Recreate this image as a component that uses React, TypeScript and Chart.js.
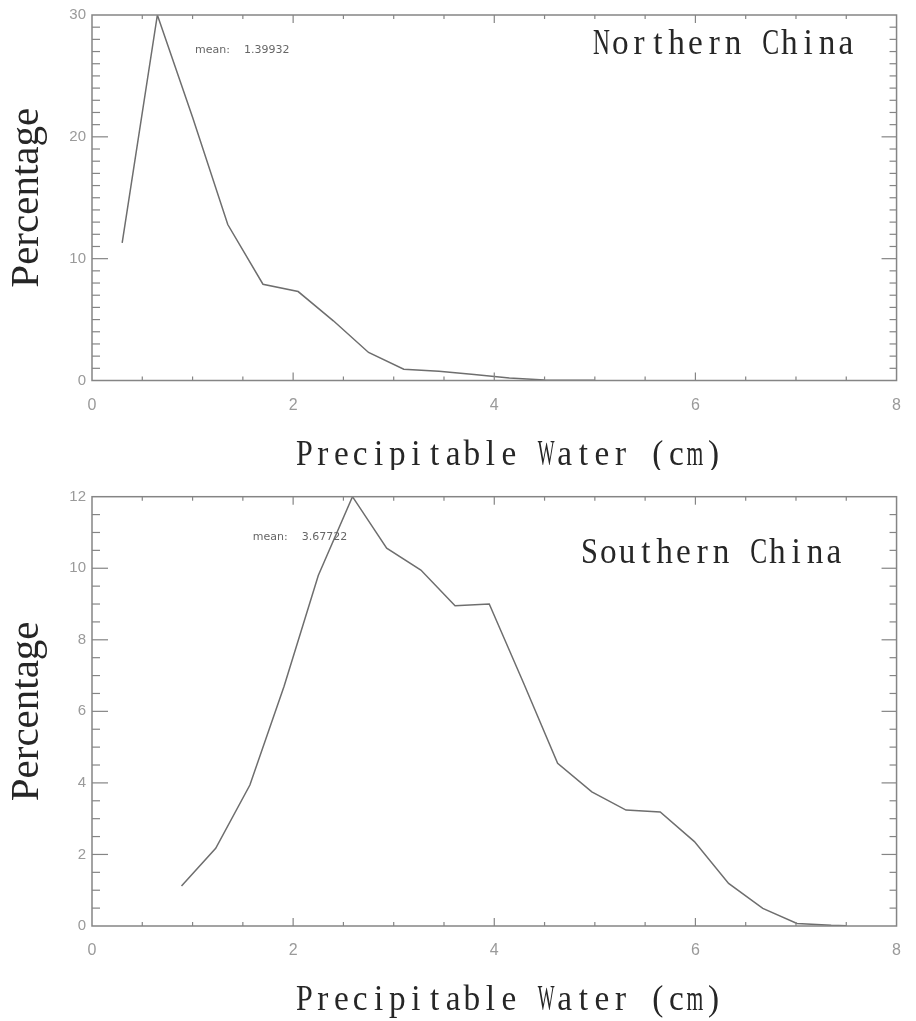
import React, { useEffect, useRef } from "react";
import { Chart, registerables } from "chart.js";

Chart.register(...registerables);

// Northern China: precipitable-water histogram (bin centre in cm, percentage of cases)
const northWater = [0.3, 0.65, 1.0, 1.35, 1.7, 2.05, 2.4, 2.75, 3.1, 3.45, 3.8, 4.15, 4.5, 4.85, 5.0];
const northPercent = [11.3, 30.0, 21.6, 12.8, 7.9, 7.3, 4.9, 2.3, 0.93, 0.75, 0.5, 0.2, 0.05, 0.03, 0.02];
const northMean = "1.39932";

// Southern China
const southWater = [0.89, 1.23, 1.57, 1.91, 2.25, 2.59, 2.93, 3.27, 3.61, 3.95, 4.29, 4.63, 4.97, 5.31, 5.65, 5.99, 6.33, 6.67, 7.01, 7.35, 7.5];
const southPercent = [1.12, 2.17, 3.94, 6.7, 9.8, 12.0, 10.56, 9.95, 8.95, 9.0, 6.8, 4.55, 3.75, 3.24, 3.19, 2.36, 1.19, 0.49, 0.07, 0.02, 0.01];
const southMean = "3.67722";

// Axis settings
const xRange = [0, 8];
const xLabelStep = 2;
const xMinorStep = 0.5;
const northYRange = [0, 30];
const northYLabelStep = 10;
const northYMinorStep = 1;
const southYRange = [0, 12];
const southYLabelStep = 2;
const southYMinorStep = 0.5;

const xTitle = "Precipitable Water (cm)";
const yTitle = "Percentage";

const LINE = "#6e6e6e";
const FRAME = "#858585";
const TICK_TEXT = "#9a9a9a";
const TITLE_TEXT = "#262626";

type PanelText = {
  region: string;
  mean: string;
  regionDx: number;
  regionDy: number;
  meanDx: number;
  meanDy: number;
  xMinor: number;
  xMajor: number;
  yMinor: number;
  yMajor: number;
};

// Serif text set in fixed-width cells (typewriter style); wide glyphs are narrowed to fit their cell
function drawFixedPitch(ctx: CanvasRenderingContext2D, text: string, left: number, baseline: number, cell: number) {
  ctx.save();
  ctx.font = "35px 'Liberation Serif'";
  ctx.textAlign = "center";
  ctx.textBaseline = "alphabetic";
  ctx.fillStyle = TITLE_TEXT;
  for (let i = 0; i < text.length; i++) {
    const ch = text[i];
    if (ch === " ") continue;
    const w = ctx.measureText(ch).width;
    const sx = Math.min(0.95, (cell * 0.9) / w);
    ctx.save();
    ctx.translate(left + cell * (i + 0.5), baseline);
    ctx.scale(sx, 1);
    ctx.fillText(ch, 0, 0);
    ctx.restore();
  }
  ctx.restore();
}

// Inward tick marks on all four sides, frame, and in-plot annotations
const framePlugin = {
  id: "idlFrame",
  afterDraw(chart: any, _args: any, opts: PanelText) {
    const { ctx, chartArea: a } = chart;
    const xs = chart.scales.x;
    const ys = chart.scales.y;
    ctx.save();
    ctx.strokeStyle = FRAME;
    ctx.lineWidth = 1.5;
    ctx.strokeRect(a.left, a.top, a.right - a.left, a.bottom - a.top);

    const seg = (x1: number, y1: number, x2: number, y2: number) => {
      ctx.beginPath();
      ctx.moveTo(x1, y1);
      ctx.lineTo(x2, y2);
      ctx.stroke();
    };
    ctx.lineWidth = 1.2;

    const nx = Math.round((xs.max - xs.min) / opts.xMinor);
    for (let i = 1; i < nx; i++) {
      const v = xs.min + i * opts.xMinor;
      const px = xs.getPixelForValue(v);
      const r = v / opts.xMajor;
      const major = Math.abs(r - Math.round(r)) < 1e-6;
      const len = major ? 8 : 4;
      seg(px, a.bottom, px, a.bottom - len);
      seg(px, a.top, px, a.top + len);
    }
    const ny = Math.round((ys.max - ys.min) / opts.yMinor);
    for (let i = 1; i < ny; i++) {
      const v = ys.min + i * opts.yMinor;
      const py = ys.getPixelForValue(v);
      const r = v / opts.yMajor;
      const major = Math.abs(r - Math.round(r)) < 1e-6;
      seg(a.left, py, a.left + (major ? 16 : 8), py);
      seg(a.right, py, a.right - (major ? 15 : 7), py);
    }

    // region name
    drawFixedPitch(ctx, opts.region, a.left + opts.regionDx, a.top + opts.regionDy, 18.8);

    // mean value
    ctx.fillStyle = "#666";
    ctx.font = "11px 'DejaVu Sans'";
    ctx.textAlign = "left";
    ctx.textBaseline = "middle";
    ctx.fillText("mean:", a.left + opts.meanDx, a.top + opts.meanDy);
    ctx.fillText(opts.mean, a.left + opts.meanDx + 49, a.top + opts.meanDy);

    // x-axis title
    drawFixedPitch(ctx, xTitle, a.left + 203, a.bottom + 84, 18.6);

    ctx.restore();
  },
};

type PanelProps = {
  water: number[];
  percent: number[];
  yRange: number[];
  yLabelStep: number;
  yMinorStep: number;
  region: string;
  mean: string;
  top: number;
  height: number;
  areaTop: number;
  areaBottom: number;
  regionDx: number;
  regionDy: number;
  meanDx: number;
  meanDy: number;
};

function Panel(p: PanelProps) {
  const ref = useRef<HTMLCanvasElement>(null);
  useEffect(() => {
    if (!ref.current) return;
    const points = p.water.map((w, i) => ({ x: w, y: p.percent[i] }));
    const chart = new Chart(ref.current, {
      type: "line",
      data: {
        datasets: [
          {
            data: points,
            borderColor: LINE,
            borderWidth: 1.5,
            pointRadius: 0,
            tension: 0,
            fill: false,
          },
        ],
      },
      plugins: [framePlugin],
      options: {
        animation: false,
        responsive: false,
        maintainAspectRatio: false,
        layout: { padding: { top: p.areaTop, right: 10, left: 0, bottom: 0 } },
        plugins: {
          legend: { display: false },
          tooltip: { enabled: false },
          idlFrame: {
            region: p.region,
            mean: p.mean,
            regionDx: p.regionDx,
            regionDy: p.regionDy,
            meanDx: p.meanDx,
            meanDy: p.meanDy,
            xMinor: xMinorStep,
            xMajor: xLabelStep,
            yMinor: p.yMinorStep,
            yMajor: p.yLabelStep,
          },
        } as any,
        scales: {
          x: {
            type: "linear",
            min: xRange[0],
            max: xRange[1],
            grid: { display: false, drawTicks: false },
            border: { display: false },
            ticks: {
              stepSize: xLabelStep,
              padding: 15,
              color: TICK_TEXT,
              font: { family: "'Liberation Sans'", size: 16 },
              maxRotation: 0,
            },
            afterFit: (s: any) => {
              s.height = p.height - p.areaBottom;
            },
          },
          y: {
            type: "linear",
            min: p.yRange[0],
            max: p.yRange[1],
            grid: { display: false, drawTicks: false },
            border: { display: false },
            ticks: {
              stepSize: p.yLabelStep,
              padding: 6,
              color: TICK_TEXT,
              font: { family: "'Liberation Sans'", size: 15 },
            },
            title: {
              display: true,
              text: yTitle,
              color: TITLE_TEXT,
              font: { family: "'Liberation Serif'", size: 41 },
              padding: { top: 3, bottom: 0 },
            },
            afterFit: (s: any) => {
              s.width = 92;
            },
          },
        },
      } as any,
    });
    return () => chart.destroy();
  }, []);
  return (
    <canvas
      ref={ref}
      width={916}
      height={p.height}
      style={{ position: "absolute", left: 0, top: p.top, display: "block" }}
    />
  );
}

export default function App() {
  return (
    <div
      style={{
        position: "absolute",
        left: 0,
        top: 0,
        width: 916,
        height: 1021,
        background: "#fff",
        overflow: "hidden",
      }}
    >
      <Panel
        water={northWater}
        percent={northPercent}
        yRange={northYRange}
        yLabelStep={northYLabelStep}
        yMinorStep={northYMinorStep}
        region="Northern China"
        mean={northMean}
        top={0}
        height={470}
        areaTop={8}
        areaBottom={380.5}
        regionDx={500}
        regionDy={38.5}
        meanDx={103}
        meanDy={35}
      />
      <Panel
        water={southWater}
        percent={southPercent}
        yRange={southYRange}
        yLabelStep={southYLabelStep}
        yMinorStep={southYMinorStep}
        region="Southern China"
        mean={southMean}
        top={470}
        height={551}
        areaTop={26.7}
        areaBottom={456}
        regionDx={488}
        regionDy={66.6}
        meanDx={160.7}
        meanDy={40.6}
      />
    </div>
  );
}
